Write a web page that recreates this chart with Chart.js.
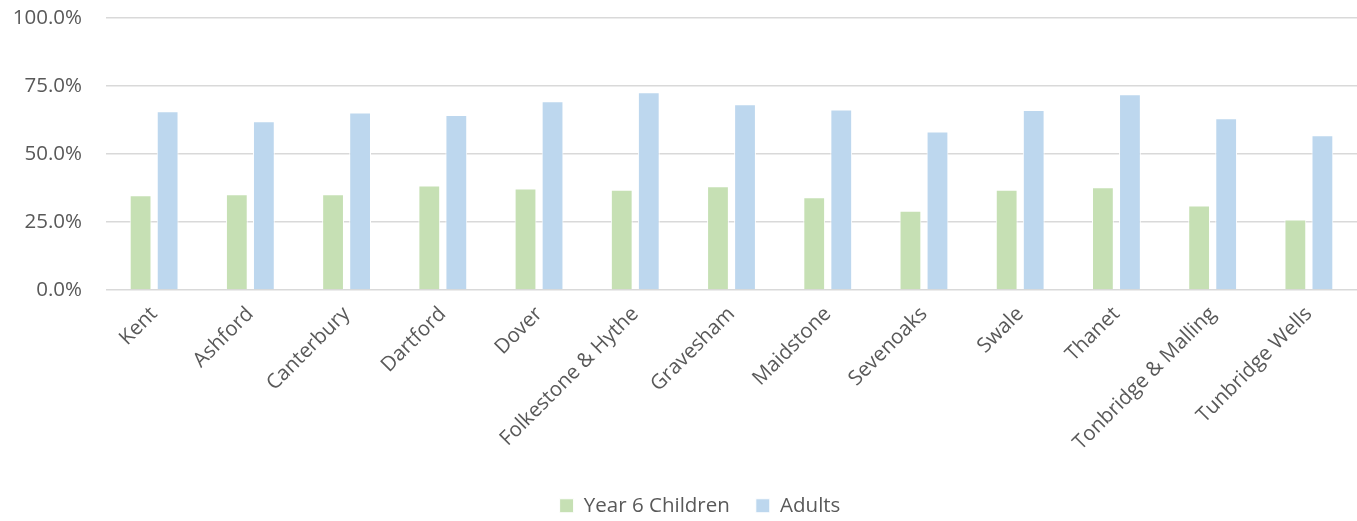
<!DOCTYPE html>
<html>
<head>
<meta charset="utf-8">
<script src="https://cdn.jsdelivr.net/npm/chart.js@4"></script>
<style>
    html, body { margin: 0; padding: 0; background: #ffffff; }
    #wrap { width: 1357px; height: 521px; }
</style>
</head>
<body>
<div id="wrap"><canvas id="chart"></canvas></div>
<script>
// ================= Data =================
const districts = ['Kent', 'Ashford', 'Canterbury', 'Dartford', 'Dover', 'Folkestone & Hythe',
    'Gravesham', 'Maidstone', 'Sevenoaks', 'Swale', 'Thanet', 'Tonbridge & Malling', 'Tunbridge Wells'];
const year6Children = [34.8, 35.2, 35.2, 38.4, 37.3, 36.9, 38.1, 34.1, 29.1, 36.9, 37.8, 31.1, 25.9];
const adults = [65.7, 62.0, 65.3, 64.3, 69.4, 72.7, 68.3, 66.4, 58.3, 66.2, 72.0, 63.1, 56.9];
const yTicks = [0, 25, 50, 75, 100];

const textColor = '#595959';
const gridColor = '#d9d9d9';
const fontFamily = '"Open Sans", sans-serif';
const fontSize = 20.5;

(function () {
    const canvas = document.getElementById('chart');

    const barStyle = {
        borderColor: '#ffffff',
        borderWidth: 1,
        categoryPercentage: 0.562,
        barPercentage: 0.806
    };

    // nudge the legend a bit to the right, like the original
    const legendShift = {
        id: 'legendShift',
        afterLayout(chart) {
            chart.legend.left += 16;
            chart.legend.right += 16;
        }
    };

    new Chart(canvas, {
        type: 'bar',
        data: {
            labels: districts,
            datasets: [
                { label: 'Year 6 Children', data: year6Children, backgroundColor: '#c6e0b4', ...barStyle },
                { label: 'Adults', data: adults, backgroundColor: '#bdd7ee', ...barStyle }
            ]
        },
        plugins: [legendShift],
        options: {
            responsive: true,
            maintainAspectRatio: false,
            animation: false,
            layout: { padding: { top: 18, right: -11, bottom: -5, left: 0 } },
            plugins: {
                legend: {
                    position: 'bottom',
                    labels: {
                        color: textColor,
                        font: { family: fontFamily, size: fontSize },
                        boxWidth: 14,
                        boxHeight: 14,
                        padding: 26
                    }
                },
                tooltip: { enabled: false }
            },
            scales: {
                x: {
                    grid: { display: false },
                    border: { display: false },
                    afterFit: axis => {
                        axis.height = 179.5;
                        axis.paddingTop = 0;
                    },
                    ticks: {
                        color: textColor,
                        font: { family: fontFamily, size: fontSize },
                        minRotation: 45,
                        maxRotation: 45,
                        autoSkip: false,
                        padding: 4
                    }
                },
                y: {
                    min: 0,
                    max: 100,
                    afterBuildTicks: axis => { axis.ticks = yTicks.map(v => ({ value: v })); },
                    afterFit: axis => {
                        axis.width = 106;
                        axis.paddingTop = 0;
                    },
                    grid: { color: gridColor, lineWidth: 1.5, drawTicks: false },
                    border: { display: false },
                    ticks: {
                        color: textColor,
                        font: { family: fontFamily, size: fontSize },
                        padding: 24,
                        callback: v => v.toFixed(1) + '%'
                    }
                }
            }
        }
    });
})();
</script>
</body>
</html>
